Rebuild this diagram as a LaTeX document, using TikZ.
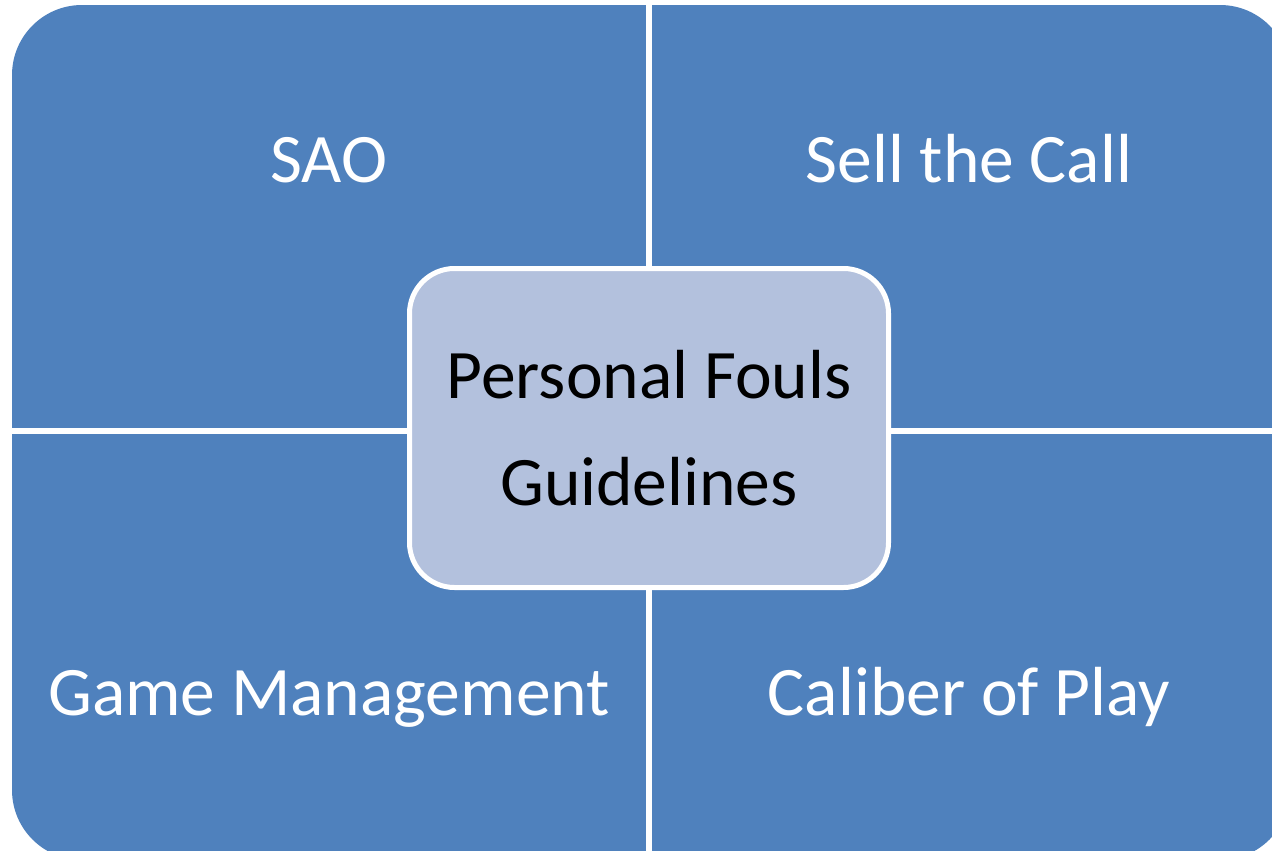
\documentclass[tikz,border=0pt]{standalone}
\usepackage{fontspec}
\setmainfont{Carlito}
\definecolor{quadblue}{RGB}{79,129,189}
\definecolor{hubblue}{RGB}{179,193,221}

\tikzstyle{quad} = [fill=quadblue, draw=none]
\tikzstyle{txt} = [text=white, inner sep=0pt, anchor=base]
\tikzstyle{hub} = [fill=hubblue, draw=white, line width=5pt, rounded corners=45pt,
                   minimum width=479pt, minimum height=319pt, align=center, inner sep=0pt]

\begin{document}
\begin{tikzpicture}[x=1pt, y=-1pt,
font=\fontsize{69.5}{107}\selectfont,
]
\useasboundingbox (0,0) rectangle (1272,851);
\clip (0,0) rectangle (1272,851);

% Quadrants
\begin{scope}
\clip[rounded corners=70pt] (12,5) rectangle (1290,860);
\fill[quad] (12,5) rectangle (646,428);
\fill[quad] (652,5) rectangle (1290,428);
\fill[quad] (12,434) rectangle (646,860);
\fill[quad] (652,434) rectangle (1290,860);
\end{scope}

% Labels
\node[txt] (sao) at (329,182) {SAO};
\node[txt] (sell) at (969,182) {Sell the Call};
\node[txt] (game) at (329,715) {Game Management};
\node[txt] (caliber) at (969,715) {Caliber of Play};

% Center
\node[hub] (fouls) at (649,428) {Personal Fouls\\Guidelines};
\end{tikzpicture}
\end{document}
